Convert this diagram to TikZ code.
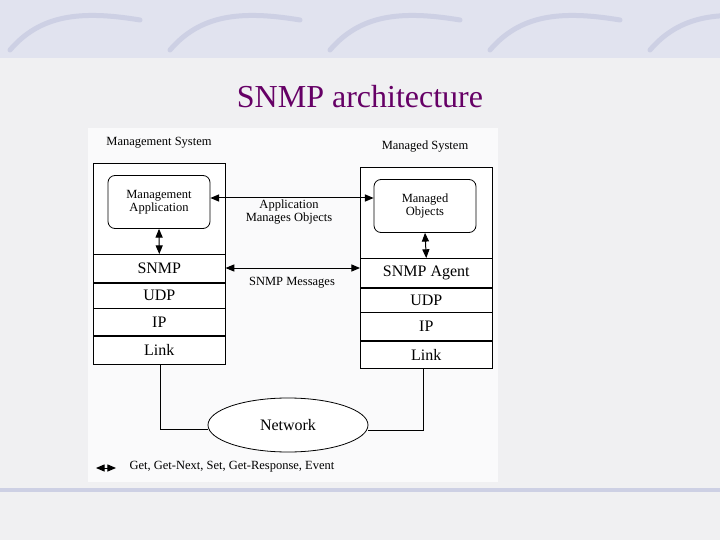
\documentclass[tikz,border=0pt]{standalone}
\usepackage{fontspec}
\setmainfont{Liberation Serif}
\usetikzlibrary{shapes,arrows,positioning,calc}
\definecolor{slidegray}{RGB}{240,240,242}
\definecolor{bandblue}{RGB}{205,208,228}
\definecolor{titlepurple}{RGB}{102,0,102}
\tikzset{
    % layer boxes of the two stacks
    layer/.style={
        rectangle, draw=black, fill=white, line width=0.6pt,
        minimum width=132pt, inner sep=0pt, font=\fontsize{16}{16}\selectfont
    },
    appbox/.style={
        rectangle, draw=black, fill=white, line width=0.8pt,
        minimum width=102pt, minimum height=53pt,
        rounded corners=7pt, align=center, font=\fontsize{12.5}{13.5}\selectfont
    },
    caption/.style={font=\fontsize{12.5}{13.5}\selectfont, align=center},
    twoway/.style={<->, >=triangle 45, line width=1pt},
    wire/.style={draw=black, line width=0.7pt}
}
\begin{document}
\begin{tikzpicture}[x=1pt,y=-1pt]

% Slide background
\useasboundingbox (0,0) rectangle (720,540);
\fill[slidegray] (0,0) rectangle (720,540);
\fill[bandblue!60] (0,0) rectangle (720,58);
\foreach \sx in {0,160,320,480,640}
  \draw[bandblue, line width=5pt, line cap=round] (\sx+10,50) .. controls (\sx+40,15) and (\sx+80,10) .. (\sx+140,20);
\draw[bandblue, line width=4pt] (0,490) -- (720,490);

% Title
\node[text=titlepurple, font=\fontsize{32}{32}\selectfont] (title) at (360,97) {SNMP architecture};

% Figure area
\fill[white!70!slidegray] (88,128) rectangle (498,482);

% Management system stack
\node[caption] (mslabel) at (159,143) {Management System};
\draw[wire, fill=white] (93,163) rectangle (225,254);
\node[layer, minimum height=28pt, anchor=north west] (snmp) at (93,254) {SNMP};
\node[layer, minimum height=25pt, below=0pt of snmp] (udp) {UDP};
\node[layer, minimum height=27pt, below=0pt of udp] (ip) {IP};
\node[layer, minimum height=28pt, below=0pt of ip] (link) {Link};
\node[appbox] (mgmtapp) at (159,202) {Management\\Application};

% Managed system stack
\node[caption] (mdlabel) at (425,147) {Managed System};
\draw[wire, fill=white] (360,167) rectangle (492,258);
\node[layer, minimum height=29pt, anchor=north west] (agent) at (360,258) {SNMP Agent};
\node[layer, minimum height=24pt, below=0pt of agent] (udpb) {UDP};
\node[layer, minimum height=28pt, below=0pt of udpb] (ipb) {IP};
\node[layer, minimum height=27pt, below=0pt of ipb] (linkb) {Link};
\node[appbox] (objects) at (425,206) {Managed\\Objects};

% Arrows between the systems
\draw[twoway] (mgmtapp.east |- 0,198) -- (objects.west |- 0,198);
\node[caption] (appmsg) at (289,212) {Application\\Manages Objects};
\draw[twoway] (snmp.east |- 0,268) -- (agent.west |- 0,268);
\node[caption] (snmpmsg) at (292,283) {SNMP Messages};
\draw[twoway] (mgmtapp.south) -- (snmp.north);
\draw[twoway] (objects.south) -- (agent.north);

% Network
\node[ellipse, draw=black, fill=white, line width=0.8pt, minimum width=160pt,
      minimum height=54pt, font=\fontsize{16}{16}\selectfont] (net) at (288,425) {Network};
\coordinate (lcorner) at (160,429);
\coordinate (rcorner) at (423,430);
\draw[wire] (link.south -| lcorner) -- (lcorner) -- (net.west |- lcorner);
\draw[wire] (linkb.south -| rcorner) -- (rcorner) -- (net.east |- rcorner);

% Legend
\coordinate (legA) at (96,468);
\coordinate (legB) at (116,468);
\draw[twoway] (legA) -- (legB);
\node[caption, anchor=west] (legend) at (126,467) {Get, Get-Next, Set, Get-Response, Event};

\end{tikzpicture}
\end{document}
